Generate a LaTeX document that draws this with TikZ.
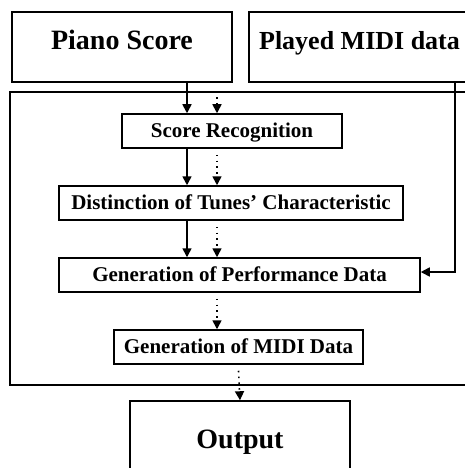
\documentclass[tikz,border=0pt]{standalone}
\usepackage{fontspec}
\setmainfont{Liberation Serif}
\usetikzlibrary{arrows.meta, positioning}

\tikzset{
  bigbox/.style={draw, line width=1.5pt, inner sep=0pt, text height=20pt, text depth=14pt,
    font=\fontsize{28}{32}\selectfont\bfseries},
  stepbox/.style={draw, line width=1.5pt, inner sep=0pt, minimum height=34pt,
    text height=15pt, text depth=3pt, font=\fontsize{21}{24}\selectfont\bfseries},
  flow/.style={line width=1.6pt, -{Triangle[length=9pt,width=9pt]}},
  dotflow/.style={line width=1.6pt, dash pattern=on 1.6pt off 4.2pt,
    -{Triangle[length=9pt,width=9pt]}},
}

\begin{document}
\begin{tikzpicture}[x=1pt, y=-1pt]
  \useasboundingbox (0,0) rectangle (465,468);

  % inputs
  \node[bigbox, minimum width=220pt, minimum height=70pt] (piano) at (122,47) {Piano Score};
  \node[bigbox, minimum width=221pt, minimum height=70pt, font=\fontsize{26}{30}\selectfont\bfseries]
    (played) at (359.5,47) {Played MIDI data};

  % system frame
  \node[draw, line width=1.5pt, minimum width=460pt, minimum height=293pt, inner sep=0pt]
    (frame) at (240,238.5) {};

  % processing steps
  \node[stepbox, minimum width=220pt] (recog) at (232,131) {Score Recognition};
  \node[stepbox, minimum width=344pt] (dist) at (231,203) {Distinction of Tunes’ Characteristic};
  \node[stepbox, minimum width=361pt] (perf) at (239.5,275) {Generation of Performance Data};
  \node[stepbox, minimum width=249pt] (midi) at (238.5,347) {Generation of MIDI Data};

  % result
  \node[bigbox, minimum width=220pt, minimum height=88pt] (output) at (240,445) {Output};

  % columns of the two flows
  \coordinate (solidx) at (187,0);
  \coordinate (dotx) at (217,0);
  \coordinate (turn) at (455,0);

  \draw[flow] (piano.south -| solidx) -- (recog.north -| solidx);
  \draw[dotflow] ([yshift=-6pt]frame.north -| dotx) -- (recog.north -| dotx);
  \draw[flow] (recog.south -| solidx) -- (dist.north -| solidx);
  \draw[dotflow] ([yshift=-6pt]recog.south -| dotx) -- (dist.north -| dotx);
  \draw[flow] (dist.south -| solidx) -- (perf.north -| solidx);
  \draw[dotflow] ([yshift=-6pt]dist.south -| dotx) -- (perf.north -| dotx);
  \draw[dotflow] ([yshift=-6pt]perf.south -| dotx) -- (midi.north -| dotx);
  \draw[dotflow] ([yshift=-6pt]midi.south) -- (output.north);

  % played data goes straight to performance generation
  \draw[flow] (played.south -| turn) |- ([yshift=3pt]perf.east);
\end{tikzpicture}
\end{document}
